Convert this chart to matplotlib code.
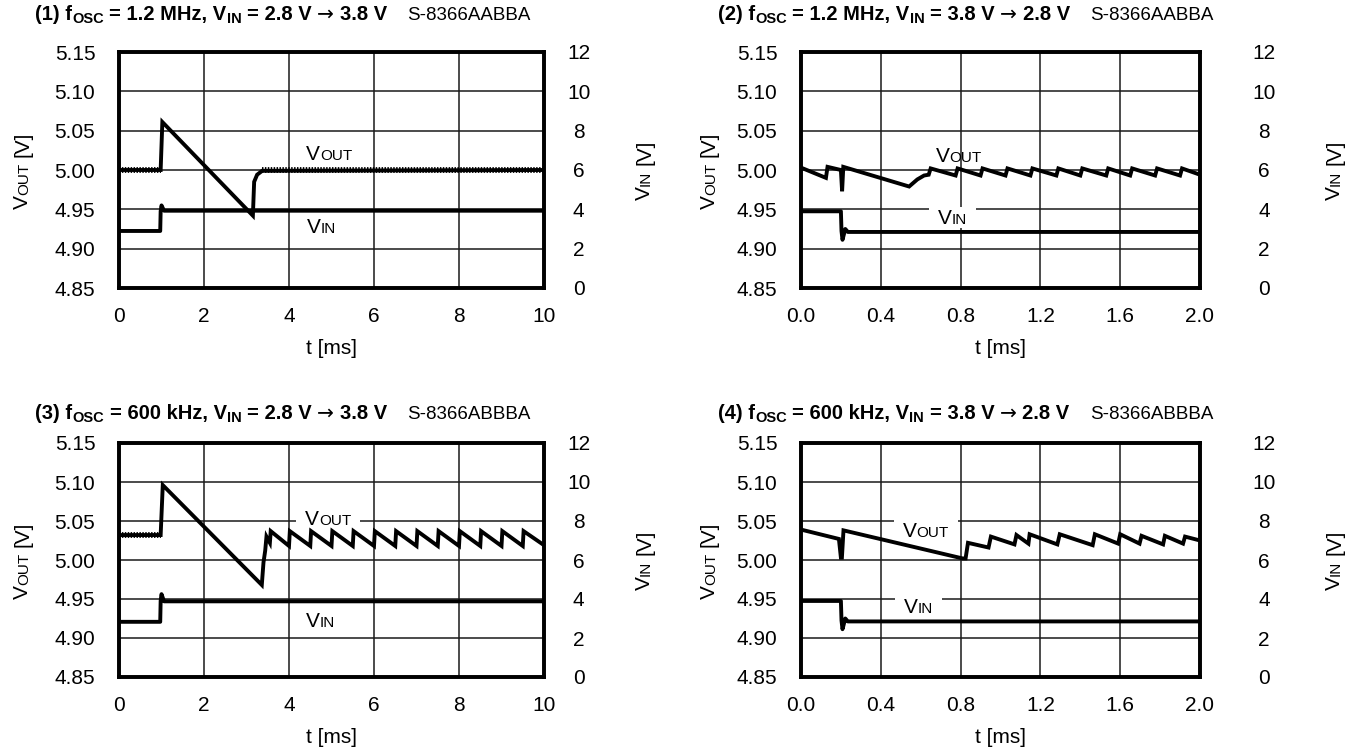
import numpy as np
import matplotlib
matplotlib.use('Agg')
import matplotlib.pyplot as plt
from matplotlib.font_manager import FontProperties
from matplotlib.transforms import IdentityTransform
from matplotlib.patches import Rectangle

FONT = ['Liberation Sans', 'DejaVu Sans']
ARROW_FONT = ['DejaVu Sans']
plt.rcParams['font.family'] = FONT

# ---------------------------------------------------------
# data (read off the scope captures)
# ---------------------------------------------------------
vout_ticks = [4.85, 4.90, 4.95, 5.00, 5.05, 5.10, 5.15]
vin_ticks = [0, 2, 4, 6, 8, 10, 12]
t_ticks_long = [0, 2, 4, 6, 8, 10]
t_ticks_short = [0.0, 0.4, 0.8, 1.2, 1.6, 2.0]

# (1) 1.2 MHz, 2.8 V -> 3.8 V
p1_vout_t = [0.0, 0.98, 1.02, 3.15, 3.18, 3.25, 3.37, 10.0]
p1_vout_v = [5.000, 5.000, 5.061, 4.942, 4.985, 4.994, 4.999, 5.000]
p1_ripple = [(0.0, 0.98, 5.000), (3.37, 10.0, 5.000)]
p1_vin_t = [0.0, 0.97, 0.98, 1.00, 1.06, 10.0]
p1_vin_v = [2.9, 2.9, 3.9, 4.2, 3.93, 3.93]

# (2) 1.2 MHz, 3.8 V -> 2.8 V
p2_vout_t = [0.0, 0.125, 0.133, 0.200, 0.206, 0.212, 0.542, 0.583, 0.617, 0.640,
             0.650, 0.775, 0.785, 0.900, 0.910, 1.025, 1.035, 1.150, 1.160, 1.280,
             1.290, 1.400, 1.410, 1.530, 1.540, 1.650, 1.660, 1.775, 1.785, 1.900,
             1.910, 2.000]
p2_vout_v = [5.003, 4.990, 5.004, 5.000, 4.973, 5.004, 4.979, 4.988, 4.993, 4.994,
             5.002, 4.993, 5.002, 4.993, 5.002, 4.993, 5.002, 4.993, 5.002, 4.993,
             5.002, 4.993, 5.002, 4.993, 5.002, 4.993, 5.002, 4.993, 5.002, 4.993,
             5.002, 4.994]
p2_vin_t = [0.0, 0.200, 0.203, 0.208, 0.222, 0.235, 2.0]
p2_vin_v = [3.9, 3.9, 2.9, 2.45, 3.0, 2.85, 2.85]

# (3) 600 kHz, 2.8 V -> 3.8 V
p3_vout_t = [0.0, 0.98, 1.03, 3.36, 3.40, 3.44, 3.47, 3.55, 3.57, 4.00,
             4.02, 4.50, 4.52, 5.00, 5.02, 5.50, 5.52, 6.00, 6.02, 6.50,
             6.52, 7.00, 7.02, 7.50, 7.52, 8.00, 8.02, 8.50, 8.52, 9.00,
             9.02, 9.50, 9.52, 10.0]
p3_vout_v = [5.032, 5.032, 5.096, 4.968, 4.997, 5.012, 5.030, 5.022, 5.037, 5.018,
             5.037, 5.018, 5.037, 5.018, 5.037, 5.018, 5.037, 5.018, 5.037, 5.018,
             5.037, 5.018, 5.037, 5.018, 5.037, 5.018, 5.037, 5.018, 5.037, 5.018,
             5.037, 5.018, 5.037, 5.019]
p3_ripple = [(0.0, 0.98, 5.032)]
p3_vin_t = [0.0, 0.97, 0.98, 1.00, 1.06, 10.0]
p3_vin_v = [2.83, 2.83, 3.9, 4.25, 3.88, 3.88]

# (4) 600 kHz, 3.8 V -> 2.8 V
p4_vout_t = [0.0, 0.190, 0.200, 0.205, 0.213, 0.810, 0.825, 0.837, 0.940, 0.952,
             1.070, 1.080, 1.140, 1.146, 1.285, 1.297, 1.462, 1.473, 1.590, 1.600,
             1.697, 1.707, 1.815, 1.824, 1.915, 1.925, 2.000]
p4_vout_v = [5.039, 5.027, 5.003, 5.003, 5.038, 5.002, 5.002, 5.022, 5.016, 5.030,
             5.020, 5.032, 5.021, 5.033, 5.020, 5.033, 5.019, 5.033, 5.021, 5.033,
             5.021, 5.031, 5.020, 5.031, 5.021, 5.030, 5.025]
p4_vin_t = [0.0, 0.200, 0.203, 0.208, 0.222, 0.235, 2.0]
p4_vin_v = [3.9, 3.9, 2.9, 2.45, 3.0, 2.85, 2.85]

# ---------------------------------------------------------
# figure
# ---------------------------------------------------------
W, H = 1365, 751
fig = plt.figure(figsize=(W / 100, H / 100), dpi=100)
renderer = fig.canvas.get_renderer()

TICK_FS = 15
LAB_FS = 15
SUB_FS = 11
TITLE_FS = 14.5
TITLE_SUB = 10.5
MODEL_FS = 13.5


def text_width(s, size, weight='normal', family=FONT):
    if not s:
        return 0.0
    fp = FontProperties(family=family, size=size, weight=weight)
    w1 = renderer.get_text_width_height_descent('|' + s + '|', fp, ismath=False)[0]
    w0 = renderer.get_text_width_height_descent('||', fp, ismath=False)[0]
    return w1 - w0


def rich_text(x, y, pieces, rotation=0, anchor='left'):
    # x, y in image pixels (top-left origin), y is the baseline
    # piece = (text, size, weight, drop[, family])
    pieces = [p if len(p) == 5 else tuple(p) + (FONT,) for p in pieces]
    total = sum(text_width(s, size, wt, fam) for s, size, wt, drop, fam in pieces)
    shift = {'left': 0.0, 'center': total / 2, 'right': total}[anchor]
    pos = -shift
    for s, size, wt, drop, fam in pieces:
        body = s.strip()
        lead = text_width(s[:len(s) - len(s.lstrip())], size, wt, fam)
        if rotation == 0:
            xd, yd = x + pos + lead, H - y - drop
        else:
            xd, yd = x + drop, H - y + pos + lead
        fig.text(xd, yd, body, transform=IdentityTransform(), fontsize=size,
                 fontweight=wt, family=fam, rotation=rotation, rotation_mode='anchor',
                 ha='left', va='baseline', color='black')
        pos += text_width(s, size, wt, fam)
    return x - shift, total


def make_axes(left, top, right, bottom, xlim, xticks, xfmt, rpad):
    ax = fig.add_axes([left / W, 1 - bottom / H, (right - left) / W, (bottom - top) / H])
    ax2 = ax.twinx()
    ax.set_xlim(xlim)
    ax.set_ylim(4.85, 5.15)
    ax2.set_ylim(0, 12)
    ax.set_xticks(xticks)
    ax.set_xticklabels([xfmt.format(v) for v in xticks])
    ax.set_yticks(vout_ticks)
    ax.set_yticklabels(['{:.2f}'.format(v) for v in vout_ticks])
    ax2.set_yticks(vin_ticks)
    ax2.set_yticklabels([str(v) for v in vin_ticks])
    ax.grid(True, color='#1a1a1a', lw=1.1)
    ax.tick_params(axis='both', length=0, labelsize=TICK_FS)
    ax.tick_params(axis='x', pad=14)
    ax.tick_params(axis='y', pad=17)
    ax2.tick_params(axis='y', length=0, labelsize=TICK_FS, pad=rpad)
    for tk in ax2.yaxis.get_major_ticks():
        tk.label2.set_horizontalalignment('center')
    for a in (ax, ax2):
        for sp in a.spines.values():
            sp.set_linewidth(2.6)
    ax.set_xlabel('t [ms]', fontsize=LAB_FS, labelpad=9)
    return ax, ax2


def draw_traces(ax, ax2, vout_t, vout_v, vin_t, vin_v, ripple=()):
    ax.plot(vout_t, vout_v, color='black', lw=2.8, zorder=3, solid_joinstyle='miter')
    for t0, t1, v in ripple:
        ax.plot([t0, t1], [v, v], color='black', lw=4.2, zorder=3,
                linestyle=(0, (0.25, 0.25)))
    ax2.plot(vin_t, vin_v, color='black', lw=2.8, zorder=3)


def inline_label(ax, t, v, name, sub, box=False):
    xd, yd = ax.transData.transform((t, v))
    x0, total = rich_text(xd, H - yd, [(name, LAB_FS, 'normal', 0), (sub, SUB_FS, 'normal', 0)],
                          anchor='center')
    if box:
        ax.add_patch(Rectangle((x0 - 9, yd - 4), total + 18, 21, transform=IdentityTransform(),
                               facecolor='white', edgecolor='none', zorder=2))


def side_labels(xl, xr, yc):
    rich_text(xl, yc, [('V', LAB_FS, 'normal', 0), ('OUT', SUB_FS, 'normal', 0),
                       (' [V]', LAB_FS, 'normal', 0)], rotation=90, anchor='center')
    rich_text(xr, yc, [('V', LAB_FS, 'normal', 0), ('IN', SUB_FS, 'normal', 0),
                       (' [V]', LAB_FS, 'normal', 0)], rotation=90, anchor='center')


def title(x, y, num, fosc, vfrom, vto, model):
    x0, total = rich_text(x, y, [('(%d) f' % num, TITLE_FS, 'bold', 0), ('OSC', TITLE_SUB, 'bold', 3),
                                 (' = %s, V' % fosc, TITLE_FS, 'bold', 0), ('IN', TITLE_SUB, 'bold', 3),
                                 (' = %s ' % vfrom, TITLE_FS, 'bold', 0),
                                 ('\u2192', TITLE_FS, 'normal', 0, ARROW_FONT),
                                 (' %s' % vto, TITLE_FS, 'bold', 0)])
    rich_text(x0 + total + 20, y, [(model, MODEL_FS, 'normal', 0)])


COL1 = (119, 544)
COL2 = (801, 1200)
ROW1 = (52, 288)
ROW2 = (443, 677)

ax1, ax1r = make_axes(COL1[0], ROW1[0], COL1[1], ROW1[1], (0, 10), t_ticks_long, '{:d}', 25)
draw_traces(ax1, ax1r, p1_vout_t, p1_vout_v, p1_vin_t, p1_vin_v, p1_ripple)
inline_label(ax1, 4.95, 5.013, 'V', 'OUT')
inline_label(ax1, 4.76, 4.92, 'V', 'IN')

ax2_, ax2r = make_axes(COL2[0], ROW1[0], COL2[1], ROW1[1], (0, 2.0), t_ticks_short, '{:.1f}', 46)
draw_traces(ax2_, ax2r, p2_vout_t, p2_vout_v, p2_vin_t, p2_vin_v)
inline_label(ax2_, 0.79, 5.0106, 'V', 'OUT')
inline_label(ax2_, 0.76, 4.931, 'V', 'IN', box=True)

ax3, ax3r = make_axes(COL1[0], ROW2[0], COL1[1], ROW2[1], (0, 10), t_ticks_long, '{:d}', 25)
draw_traces(ax3, ax3r, p3_vout_t, p3_vout_v, p3_vin_t, p3_vin_v, p3_ripple)
inline_label(ax3, 4.92, 5.045, 'V', 'OUT', box=True)
inline_label(ax3, 4.74, 4.9145, 'V', 'IN')

ax4, ax4r = make_axes(COL2[0], ROW2[0], COL2[1], ROW2[1], (0, 2.0), t_ticks_short, '{:.1f}', 46)
draw_traces(ax4, ax4r, p4_vout_t, p4_vout_v, p4_vin_t, p4_vin_v)
inline_label(ax4, 0.625, 5.030, 'V', 'OUT', box=True)
inline_label(ax4, 0.587, 4.932, 'V', 'IN', box=True)

side_labels(28, 650, (ROW1[0] + ROW1[1]) / 2)
side_labels(715, 1340, (ROW1[0] + ROW1[1]) / 2)
side_labels(28, 650, (ROW2[0] + ROW2[1]) / 2)
side_labels(715, 1340, (ROW2[0] + ROW2[1]) / 2)

title(35, 20, 1, '1.2 MHz', '2.8 V', '3.8 V', 'S-8366AABBA')
title(718, 20, 2, '1.2 MHz', '3.8 V', '2.8 V', 'S-8366AABBA')
title(35, 419, 3, '600 kHz', '2.8 V', '3.8 V', 'S-8366ABBBA')
title(718, 419, 4, '600 kHz', '3.8 V', '2.8 V', 'S-8366ABBBA')

fig.savefig('out.png', dpi=100)
